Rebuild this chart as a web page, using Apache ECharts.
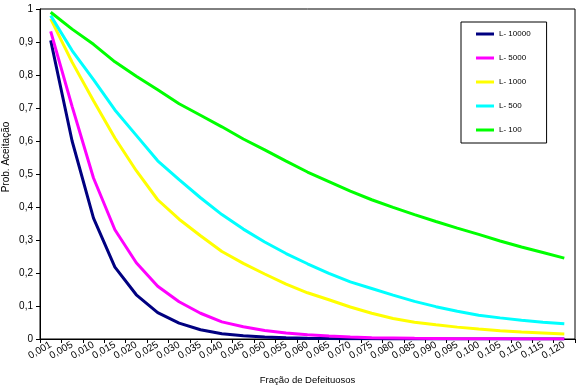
<!DOCTYPE html>
<html>
<head>
<meta charset="utf-8">
<script src="https://cdn.jsdelivr.net/npm/echarts@6/dist/echarts.min.js"></script>
<style>
html,body{margin:0;padding:0;background:#fff;}
#chart{width:586px;height:390px;}
</style>
</head>
<body>
<div id="chart"></div>
<script>
const categories = ['0,001','0,005','0,010','0,015','0,020','0,025','0,030','0,035','0,040','0,045','0,050','0,055','0,060','0,065','0,070','0,075','0,080','0,085','0,090','0,095','0,100','0,105','0,110','0,115','0,120'];
const yTickLabels = ['0','0,1','0,2','0,3','0,4','0,5','0,6','0,7','0,8','0,9','1'];
const seriesNames = ['L- 10000','L- 5000','L- 1000','L- 500','L- 100'];
const L10000 = [0.905,0.600,0.366,0.218,0.134,0.080,0.048,0.028,0.016,0.010,0.006,0.0035,0.002,0.0012,0.0007,0.0004,0.0002,0.0001,0.0001,0,0,0,0,0,0];
const L5000 = [0.932,0.705,0.488,0.331,0.231,0.160,0.113,0.078,0.052,0.037,0.026,0.018,0.013,0.009,0.006,0.004,0.003,0.002,0.0015,0.001,0.0007,0.0005,0.0003,0.0002,0.0001];
const L1000 = [0.970,0.839,0.722,0.609,0.510,0.422,0.363,0.313,0.265,0.229,0.197,0.166,0.140,0.119,0.097,0.078,0.062,0.051,0.043,0.036,0.030,0.025,0.021,0.018,0.015];
const L500 = [0.980,0.874,0.786,0.694,0.617,0.540,0.483,0.428,0.377,0.333,0.294,0.259,0.228,0.199,0.173,0.153,0.133,0.114,0.098,0.084,0.072,0.064,0.057,0.051,0.046];
const L100 = [0.990,0.939,0.893,0.840,0.796,0.755,0.713,0.678,0.643,0.606,0.573,0.539,0.506,0.477,0.448,0.422,0.399,0.377,0.356,0.336,0.317,0.297,0.279,0.262,0.245];
const colors = ['#000080','#FF00FF','#FFFF00','#00FFFF','#00FF00'];
const allData = [L10000, L5000, L1000, L500, L100];

const FONT = 'Liberation Sans, Arial, sans-serif';
const chart = echarts.init(document.getElementById('chart'), null, {renderer:'canvas'});
chart.setOption({
  animation: false,
  backgroundColor: '#fff',
  grid: {left: 40, right: 11, top: 9, bottom: 51, show: true, borderColor: '#000', borderWidth: 1, backgroundColor: 'transparent'},
  legend: {
    orient: 'vertical', left: 461, top: 22,
    data: seriesNames,
    icon: 'rect', itemWidth: 18, itemHeight: 3, itemGap: 16,
    padding: [8, 16, 9, 15],
    borderColor: '#000', borderWidth: 1, backgroundColor: '#fff',
    textStyle: {fontFamily: FONT, fontSize: 8, color: '#000'},
    selectedMode: false
  },
  xAxis: {
    type: 'category', data: categories, boundaryGap: true,
    name: 'Fração de Defeituosos', nameLocation: 'middle', nameGap: 36,
    nameTextStyle: {fontFamily: FONT, fontSize: 9.5, color: '#000'},
    axisLine: {lineStyle: {color: '#000', width: 1}},
    axisTick: {show: true, length: 4, lineStyle: {color: '#000'}},
    axisLabel: {rotate: 30, fontFamily: FONT, fontSize: 10, color: '#000', margin: 5, interval: 0},
    splitLine: {show: false}
  },
  yAxis: {
    type: 'value', min: 0, max: 1, interval: 0.1,
    axisLine: {show: true, lineStyle: {color: '#000', width: 1}},
    axisTick: {show: true, length: 4, lineStyle: {color: '#000'}},
    axisLabel: {fontFamily: FONT, fontSize: 10, color: '#000', margin: 7,
      formatter: v => yTickLabels[Math.round(v * 10)]},
    splitLine: {show: false}
  },
  graphic: [{
    type: 'text', x: 6, y: 157, rotation: Math.PI / 2,
    style: {text: 'Prob. Aceitação', fill: '#000', font: '10px ' + FONT, textAlign: 'center', textVerticalAlign: 'middle'}
  }],
  series: allData.map((d, i) => ({
    name: seriesNames[i], type: 'line', data: d,
    showSymbol: false, symbol: 'none',
    lineStyle: {color: colors[i], width: 3},
    itemStyle: {color: colors[i]},
    z: 2 + i
  }))
});
</script>
</body>
</html>
